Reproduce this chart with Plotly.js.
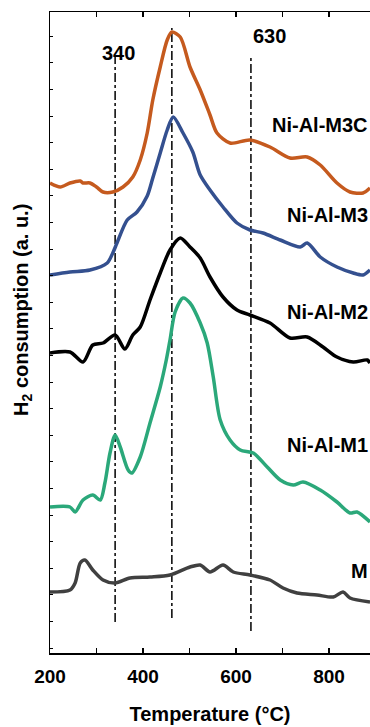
<!DOCTYPE html>
<html>
<head>
<meta charset="utf-8">
<script src="https://cdn.plot.ly/plotly-3.0.1.min.js"></script>
<style>html,body{margin:0;padding:0;background:#fff;}#chart{width:370px;height:727px;}</style>
</head>
<body>
<div id="chart"></div>
<script>
// Temperature (°C) and H2 consumption (a. u., offset stacked)
const tM3C = [200,222,243,265,271,286,300,314,335,357,378,394,409,421,437,452,462,480,501,523,544,559,587,630,673,716,753,781,817,845,873,888];
const yM3C = [47.0,46.6,47.0,47.2,47.0,47.0,46.6,46.1,46.1,46.6,47.6,49.3,52.0,55.3,58.6,61.3,62.1,61.6,58.6,56.3,53.8,52.0,51.0,51.3,50.6,49.5,49.6,48.8,47.0,46.1,46.0,46.5];

const tM3 = [200,243,286,323,335,344,366,387,409,421,437,452,465,486,507,523,544,572,602,630,658,695,738,753,781,817,852,873,888];
const yM3 = [37.8,38.1,38.3,39.0,40.0,41.0,43.3,44.1,45.7,47.5,50.0,52.3,53.6,52.0,50.1,47.8,46.3,44.6,43.0,42.3,42.0,41.3,40.6,41.0,39.6,38.6,38.0,37.8,38.3];

const tM2 = [200,243,271,292,314,340,361,378,394,415,437,458,480,501,523,544,572,602,630,673,716,753,787,817,852,882,888];
const yM2 = [30.0,30.1,29.1,30.8,31.0,31.8,30.4,31.8,32.6,35.3,38.0,40.3,41.5,40.6,39.5,37.6,35.6,34.3,33.8,33.0,31.5,31.6,30.6,29.6,29.1,29.3,29.0];

const tM1 = [200,243,254,271,292,308,318,329,340,351,368,376,394,415,437,450,458,469,486,501,523,538,551,566,587,609,637,667,695,723,744,781,817,845,860,888];
const yM1 = [14.6,14.6,14.1,15.3,15.8,15.3,17.0,20.0,21.8,20.6,18.3,18.0,19.6,23.0,26.6,29.3,31.3,34.1,35.5,35.0,33.0,31.0,27.6,23.3,21.3,20.3,20.0,18.6,17.3,16.8,17.1,16.3,15.1,14.0,14.1,13.1];

const tM = [200,243,254,265,275,292,314,340,372,415,458,501,523,544,572,594,630,673,701,731,774,809,830,845,888];
const yM = [6.1,6.3,7.0,9.0,9.3,8.3,7.3,7.0,7.5,7.6,7.8,8.6,8.8,8.1,8.8,8.1,7.8,7.3,6.5,6.0,5.8,5.6,6.1,5.5,5.1];

const seriesNames = ['Ni-Al-M3C','Ni-Al-M3','Ni-Al-M2','Ni-Al-M1','M'];
const seriesColors = ['#C55A1E','#34508F','#000000','#2BA87A','#404040'];
const labelY = [52.8,43.8,34.1,20.8,8.2];

// Reference (peak) temperature lines
const peakT = [340, 462, 632];
const peakTop = [59.6, 62.5, 59.8];
const peakBottom = [3.1, 3.5, 2.2];
const peakLabels = ['340', '', '630'];
const peakLabelY = [60.0, null, 61.7];

const xTicks = [200, 400, 600, 800];

const T = [tM3C, tM3, tM2, tM1, tM];
const Y = [yM3C, yM3, yM2, yM1, yM];

const traces = [];
for (let i = 0; i < peakT.length; i++) {
  traces.push({x:[peakT[i], peakT[i]], y:[peakBottom[i], peakTop[i]], mode:'lines',
    line:{color:'#000', width:1.5, dash:'dashdot'}, showlegend:false, hoverinfo:'skip'});
}
for (let i = 0; i < T.length; i++) {
  traces.push({x:T[i], y:Y[i], mode:'lines', name:seriesNames[i],
    line:{color:seriesColors[i], width:3.5, shape:'spline', smoothing:0.8}, showlegend:false});
}

const font = {family:'Liberation Sans, Arial, sans-serif', color:'#000'};
const annotations = [];
for (let i = 0; i < seriesNames.length; i++) {
  annotations.push({x:1, xref:'paper', xanchor:'right', y:labelY[i], yref:'y', yanchor:'middle',
    text:seriesNames[i], showarrow:false, font:Object.assign({}, font, {size:20, weight:'bold'})});
}
for (let i = 0; i < peakT.length; i++) {
  if (!peakLabels[i]) continue;
  annotations.push({x:peakT[i], xref:'x', xanchor:'center', xshift: i===0 ? 3 : 19, y:peakLabelY[i], yref:'y', yanchor:'middle',
    text:peakLabels[i], showarrow:false, font:Object.assign({}, font, {size:20, weight:'bold'})});
}
annotations.push({x:-0.088, xref:'paper', xanchor:'center', y:0.535, yref:'paper', yanchor:'middle',
  textangle:-90, text:'H<sub>2</sub> consumption (a. u.)', showarrow:false,
  font:Object.assign({}, font, {size:20, weight:'bold'})});

const layout = {
  width:370, height:727,
  margin:{l:50, r:0, t:12, b:74},
  paper_bgcolor:'#fff', plot_bgcolor:'#fff',
  showlegend:false,
  xaxis:{range:[200, 888], tickvals:xTicks, ticktext:xTicks.map(String),
    ticks:'inside', ticklen:5, tickwidth:1.5, tickcolor:'#000', ticklabelstandoff:6,
    minor:{dtick:100, tick0:200, ticks:'inside', ticklen:5, tickwidth:1.5, tickcolor:'#000'},
    showline:true, linecolor:'#000', linewidth:1.5, mirror:'ticks',
    showgrid:false, zeroline:false,
    tickfont:Object.assign({}, font, {size:19, weight:'bold'}),
    title:{text:'Temperature (°C)', standoff:20, font:Object.assign({}, font, {size:20, weight:'bold'})}},
  yaxis:{range:[0, 64.1], tick0:0.5, dtick:2.66, ticks:'inside', ticklen:3, tickwidth:1, tickcolor:'#000',
    showticklabels:false, showline:true, linecolor:'#000', linewidth:1.5, mirror:false,
    showgrid:false, zeroline:false},
  annotations:annotations
};

Plotly.newPlot('chart', traces, layout, {displayModeBar:false, staticPlot:true});
</script>
</body>
</html>
